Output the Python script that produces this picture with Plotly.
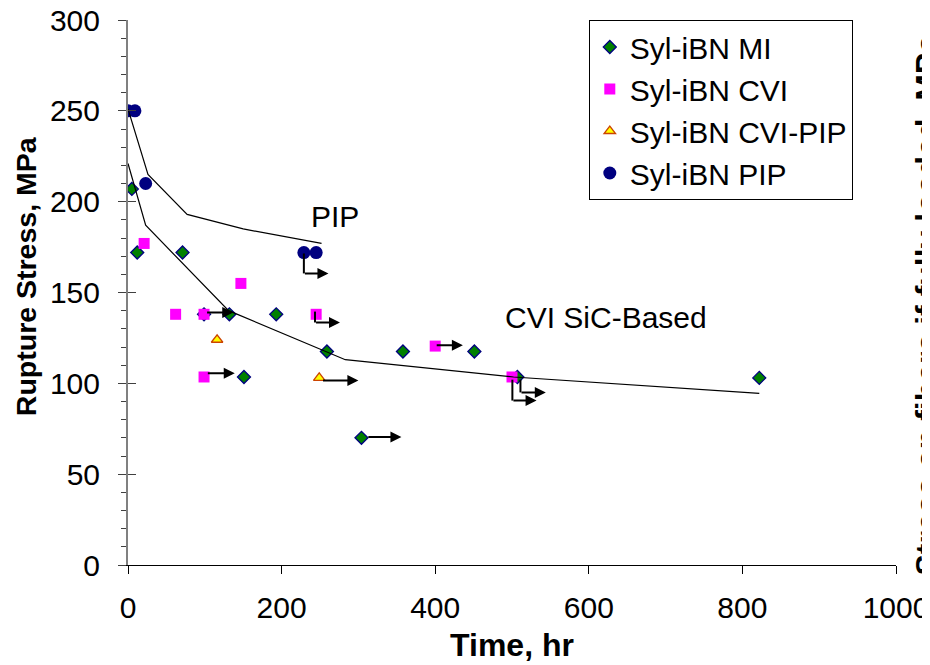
import plotly.graph_objects as go

# ---------------- data ----------------
mi_time = [5, 12, 71, 99, 132, 151, 193, 259, 304, 358, 451, 507, 822]
mi_stress = [207, 172, 172, 138, 138, 103.5, 138, 117.5, 70, 117.5, 117.5, 103.5, 103]

cvi_time = [21, 62, 99, 99, 147, 245, 400, 500]
cvi_stress = [177, 138, 138, 103.5, 155, 138, 120.5, 103.5]

cvipip_time = [116, 249]
cvipip_stress = [124, 103]

pip_time = [0, 9, 23, 229, 245]
pip_stress = [250, 250, 210, 172, 172]

# trend curves
cvi_fit_time = [0, 23, 131, 283, 502, 822]
cvi_fit_stress = [221, 187, 140, 113, 103.5, 94.5]
pip_fit_time = [0, 26, 77, 150, 252]
pip_fit_stress = [251, 215, 193, 185, 177]

# run-out arrows (straight): start time, stress, end time
run_start = [101, 102, 252, 311, 400]
run_stress = [139, 105.5, 101.5, 70.5, 121]
run_end = [137, 139, 300, 356, 436]
# run-out arrows (L-shaped): time, top stress, bottom stress, end time
runL_time = [229, 243.5, 500.5, 511]
runL_top = [171.5, 139.5, 102, 102]
runL_bot = [160.5, 133.5, 90.5, 95]
runL_end = [261, 276, 532, 544]

x_ticks = [0, 200, 400, 600, 800, 1000]
y_ticks = [0, 50, 100, 150, 200, 250, 300]

FONT = "Arial, 'Liberation Sans', sans-serif"

fig = go.Figure()

fig.add_trace(go.Scatter(
    x=mi_time, y=mi_stress, mode="markers", name="Syl-iBN MI",
    marker=dict(symbol="diamond", size=10, color="#008000",
                line=dict(color="#000080", width=1.3))))
fig.add_trace(go.Scatter(
    x=cvi_time, y=cvi_stress, mode="markers", name="Syl-iBN CVI",
    marker=dict(symbol="square", size=11, color="#FF00FF",
                line=dict(width=0))))
fig.add_trace(go.Scatter(
    x=cvipip_time, y=cvipip_stress, mode="markers", name="Syl-iBN CVI-PIP",
    marker=dict(symbol="triangle-up", size=10, color="#FFFF00",
                line=dict(color="#CC4400", width=1.3))))
fig.add_trace(go.Scatter(
    x=pip_time, y=pip_stress, mode="markers", name="Syl-iBN PIP",
    marker=dict(symbol="circle", size=13, color="#000080",
                line=dict(width=0))))

fig.add_trace(go.Scatter(
    x=cvi_fit_time, y=cvi_fit_stress, mode="lines", showlegend=False,
    line=dict(color="black", width=1.2), yaxis="y2", hoverinfo="skip"))
fig.add_trace(go.Scatter(
    x=pip_fit_time, y=pip_fit_stress, mode="lines", showlegend=False,
    line=dict(color="black", width=1.2), yaxis="y2", hoverinfo="skip"))

annotations = []
shapes = []
for s0, s, e in zip(run_start, run_stress, run_end):
    annotations.append(dict(x=e, y=s, ax=s0, ay=s, xref="x", yref="y",
                            axref="x", ayref="y", text="", showarrow=True,
                            arrowhead=2, arrowsize=1.1, arrowwidth=2,
                            arrowcolor="black", standoff=0, startstandoff=0))
for t, top, bot, e in zip(runL_time, runL_top, runL_bot, runL_end):
    shapes.append(dict(type="line", xref="x", yref="y", x0=t, x1=t,
                       y0=top, y1=bot, line=dict(color="black", width=2)))
    annotations.append(dict(x=e, y=bot, ax=t - 0.6, ay=bot, xref="x", yref="y",
                            axref="x", ayref="y", text="", showarrow=True,
                            arrowhead=2, arrowsize=1.1, arrowwidth=2,
                            arrowcolor="black", standoff=0, startstandoff=0))

annotations.append(dict(x=269, y=192, xref="x", yref="y", text="PIP",
                        showarrow=False, font=dict(family=FONT, size=30, color="black")))
annotations.append(dict(x=622, y=136, xref="x", yref="y", text="CVI SiC-Based",
                        showarrow=False, font=dict(family=FONT, size=30, color="black")))
annotations.append(dict(x=1.015, y=0.477, xref="paper", yref="paper",
                        text="<b>Stress on fibers if fully loaded, MPa</b>",
                        textangle=-90, showarrow=False, xanchor="left", yanchor="middle",
                        font=dict(family=FONT, size=32, color="black")))
annotations.append(dict(x=-0.1328, y=0.530, xref="paper", yref="paper",
                        text="<b>Rupture Stress, MPa</b>",
                        textangle=-90, showarrow=False, xanchor="center", yanchor="middle",
                        font=dict(family=FONT, size=28.5, color="black")))

fig.update_layout(
    width=922, height=657,
    margin=dict(l=120, r=34, t=12, b=100, autoexpand=False),
    paper_bgcolor="white", plot_bgcolor="white",
    font=dict(family=FONT, size=30, color="black"),
    showlegend=True,
    legend=dict(x=0.6, y=1.0, xanchor="left", yanchor="top",
                bgcolor="white", bordercolor="black", borderwidth=1,
                font=dict(family=FONT, size=30, color="black"),
                itemwidth=30, tracegroupgap=0),
    xaxis=dict(range=[0, 1000], tickvals=x_ticks, ticks="outside", ticklen=8,
               tickcolor="black", showline=True, linecolor="black", linewidth=1,
               showgrid=False, zeroline=False, ticklabelstandoff=8,
               ticklabeloverflow="allow",
               tickfont=dict(family=FONT, size=30),
               title=dict(text="<b>Time, hr</b>", font=dict(family=FONT, size=32),
                          standoff=10)),
    yaxis=dict(range=[0, 300], tickvals=y_ticks, ticks="outside", ticklen=8,
               tickcolor="#404040", showline=True, linecolor="#808080", linewidth=2,
               showgrid=False, zeroline=False, ticklabelstandoff=12,
               ticklabeloverflow="allow",
               minor=dict(dtick=10, ticks="outside", ticklen=5, tickcolor="#404040"),
               tickfont=dict(family=FONT, size=30)),
    yaxis2=dict(range=[0, 300], overlaying="y", anchor="x", side="left",
                tickvals=y_ticks, ticks="inside", ticklen=8, tickcolor="#404040",
                showticklabels=False, showline=False, showgrid=False, zeroline=False),
    annotations=annotations,
    shapes=shapes,
)

fig.write_html("out.html")
